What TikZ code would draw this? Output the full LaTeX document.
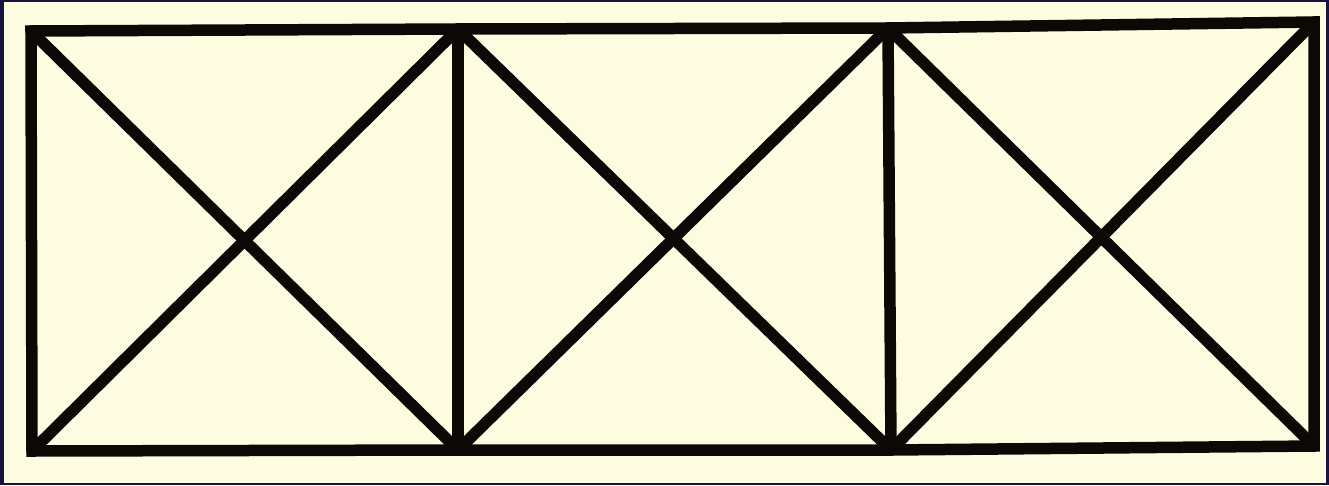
\documentclass[tikz,border=0pt]{standalone}
\definecolor{navy}{RGB}{22,20,62}
\definecolor{cream}{RGB}{254,252,224}
\definecolor{ink}{RGB}{12,8,6}
\begin{document}
\begin{tikzpicture}[x=1pt,y=-1pt,bar/.style={draw=ink,line width=11.5pt,line cap=round,line join=round}]
\fill[navy] (0,0) rectangle (1329,485);
\fill[cream] (4,2) rectangle (1326,483);
\useasboundingbox (0,0) rectangle (1329,485);
\coordinate (TL) at (31,31);
\coordinate (T1) at (458,29);
\coordinate (T2) at (888,28);
\coordinate (TR) at (1314,22);
\coordinate (BL) at (32,451);
\coordinate (B1) at (458,450);
\coordinate (B2) at (891,450);
\coordinate (BR) at (1314,446);
\draw[bar,line join=miter,line cap=rect] (TL) -- (T1) -- (T2) -- (TR) -- (BR) -- (B2) -- (B1) -- (BL) -- cycle;
\draw[bar] (T1) -- (B1);
\draw[bar] (T2) -- (B2);
\draw[bar] (TL) -- (B1);
\draw[bar] (BL) -- (T1);
\draw[bar] (T1) -- (B2);
\draw[bar] (B1) -- (T2);
\draw[bar] (T2) -- (BR);
\draw[bar] (B2) -- (TR);
\end{tikzpicture}
\end{document}
